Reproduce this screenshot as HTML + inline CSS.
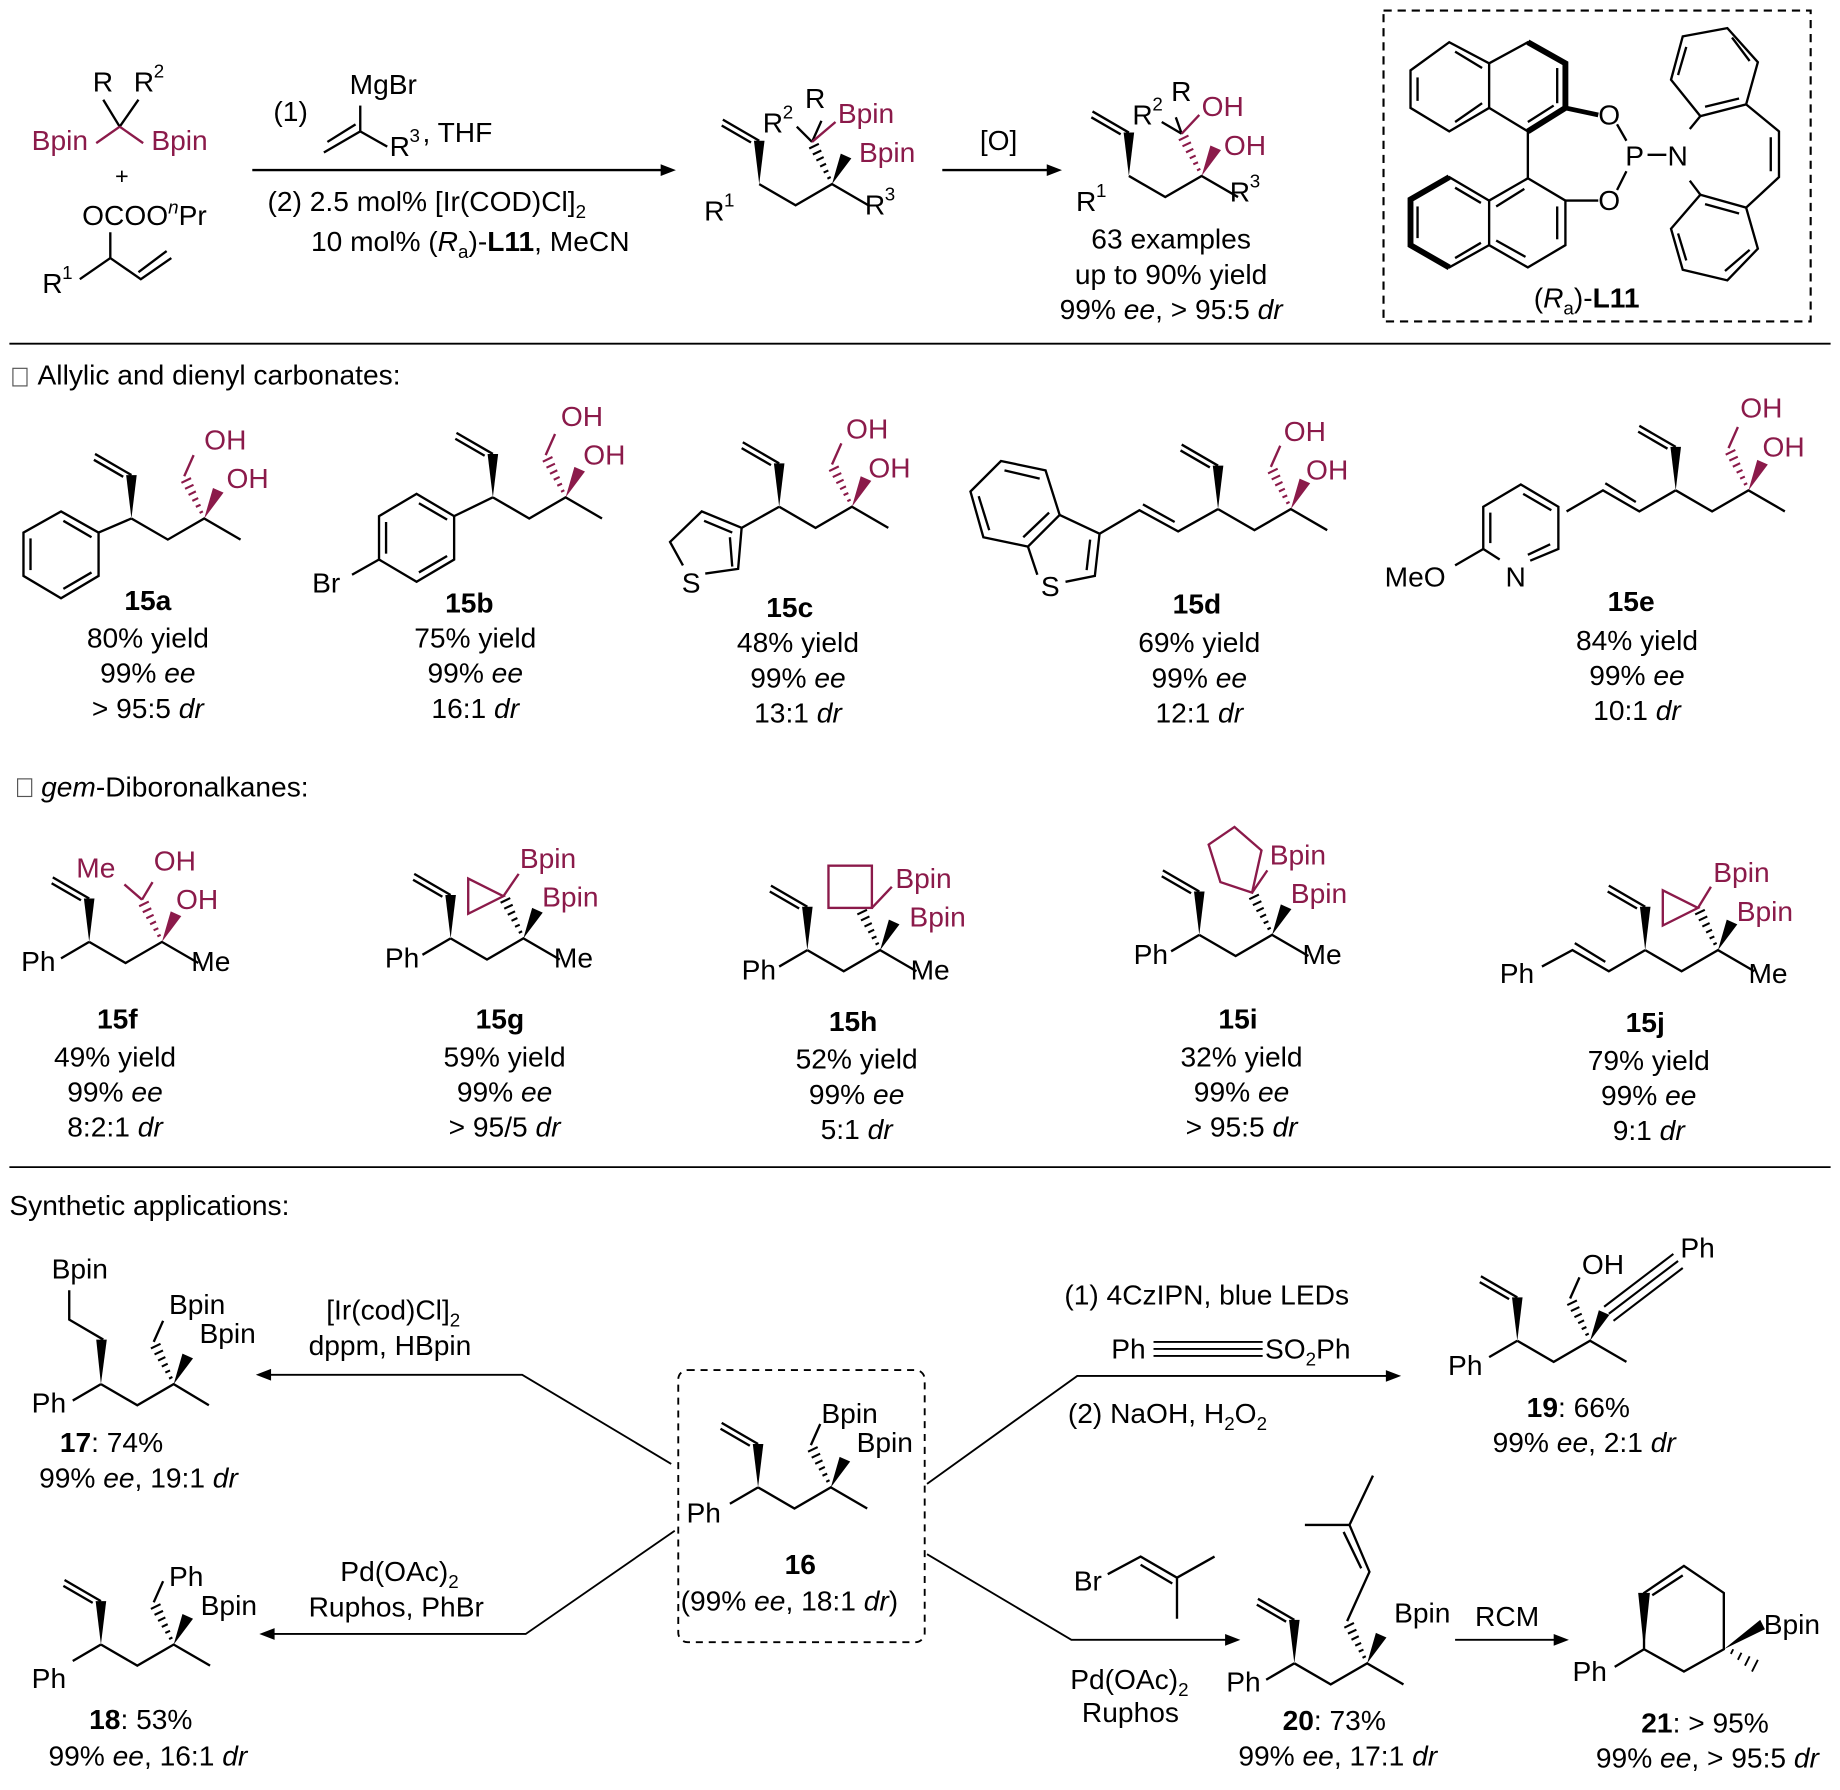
<!DOCTYPE html>
<html><head><meta charset="utf-8"><style>
html,body{margin:0;padding:0;background:#fff}
svg{display:block}
text{font-family:"Liberation Sans",Arial,sans-serif;font-size:24px;fill:#000}
.m{fill:#8b1a4a}
.b{font-weight:bold}
.i{font-style:italic}
.s{font-size:16px}
</style></head><body>
<svg width="1840" height="1790" viewBox="0 0 1568 1526" preserveAspectRatio="none" xmlns="http://www.w3.org/2000/svg">
<defs>
<g id="ch" stroke="#000" stroke-width="2" fill="none">
  <polygon points="0,0 -4.5,-37 4.5,-37" fill="#000" stroke="none"/>
  <line x1="0" y1="-37" x2="-31" y2="-55"/>
  <line x1="-7" y1="-35.5" x2="-32" y2="-50"/>
  <polyline points="0,0 31,18 62,0 93,18"/>
</g>
<g id="hw" stroke="currentColor" stroke-width="1.8" fill="none">
  <line x1="58.1" y1="-4.7" x2="60.9" y2="-6.1"/>
  <line x1="54.9" y1="-9.9" x2="58.9" y2="-11.7"/>
  <line x1="51.9" y1="-15" x2="56.9" y2="-17.4"/>
  <line x1="48.7" y1="-20.1" x2="54.9" y2="-23.1"/>
  <line x1="45.7" y1="-25.3" x2="52.9" y2="-28.7"/>
  <line x1="42.6" y1="-30.4" x2="50.8" y2="-34.4"/>
  <polygon points="62,0 69.5,-26 78.5,-22" fill="currentColor" stroke="none"/>
</g>
<g id="up" stroke="currentColor" stroke-width="2"><line x1="45" y1="-36" x2="53" y2="-54"/></g>
<g id="ph" stroke="#000" stroke-width="2"><line x1="0" y1="0" x2="-24" y2="14"/></g>
</defs>

<!-- ============ TOP SCHEME ============ -->
<g stroke-width="2" fill="none">
  <line x1="88" y1="85" x2="102" y2="108" stroke="#000"/>
  <line x1="118" y1="85" x2="102" y2="108" stroke="#000"/>
  <line x1="102" y1="108" x2="82" y2="122" stroke="#8b1a4a"/>
  <line x1="102" y1="108" x2="122" y2="122" stroke="#8b1a4a"/>
  <g stroke="#000">
  <line x1="94" y1="198" x2="94" y2="220"/>
  <polyline points="94,220 68,238"/>
  <polyline points="94,220 120,238 146,220"/>
  <line x1="118" y1="232" x2="142" y2="214"/>
  <line x1="215" y1="145" x2="568" y2="145"/>
  <line x1="307" y1="90" x2="307" y2="112"/>
  <line x1="307" y1="112" x2="276" y2="130"/>
  <line x1="303" y1="106" x2="279" y2="121"/>
  <line x1="307" y1="112" x2="330" y2="125"/>
  <line x1="803" y1="145" x2="897" y2="145"/>
  </g>
</g>
<polygon points="576,145 563,140 563,150" fill="#000"/>
<polygon points="905,145 892,140 892,150" fill="#000"/>
<text x="79" y="78">R</text><text x="114" y="78">R</text><text class="s" x="131" y="66">2</text>
<text class="m" x="27" y="128">Bpin</text><text class="m" x="129" y="128">Bpin</text>
<text x="98" y="157" style="font-size:20px">+</text>
<text x="70" y="192">OCOO<tspan class="s i" dy="-10">n</tspan><tspan dy="10">Pr</tspan></text>
<text x="36" y="250">R</text><text class="s" x="53" y="238">1</text>
<text x="233" y="103">(1)</text>
<text x="298" y="80">MgBr</text>
<text x="332" y="133">R</text><text class="s" x="349" y="121">3</text><text x="360" y="121">, THF</text>
<text x="228" y="180">(2) 2.5 mol% [Ir(COD)Cl]<tspan class="s" dy="6">2</tspan></text>
<text x="265" y="214">10 mol% (<tspan class="i">R</tspan><tspan class="s" dy="6">a</tspan><tspan dy="-6">)-</tspan><tspan class="b">L11</tspan>, MeCN</text>

<!-- product 1 -->
<use href="#ch" x="647" y="157"/>
<use href="#hw" x="647" y="157" style="color:#000"/>
<line x1="692" y1="121" x2="700" y2="103" stroke="#000" stroke-width="2"/>
<line x1="692" y1="121" x2="679" y2="108" stroke="#000" stroke-width="2"/>
<line x1="692" y1="121" x2="712" y2="104" stroke="#8b1a4a" stroke-width="2"/>
<text x="650" y="113">R</text><text class="s" x="667" y="101">2</text>
<text x="686" y="92">R</text>
<text class="m" x="714" y="105">Bpin</text><text class="m" x="732" y="138">Bpin</text>
<text x="600" y="188">R</text><text class="s" x="617" y="176">1</text>
<text x="737" y="183">R</text><text class="s" x="754" y="171">3</text>
<text x="835" y="128">[O]</text>

<!-- product 2 -->
<use href="#ch" x="962" y="150"/>
<use href="#hw" x="962" y="150" style="color:#8b1a4a"/>
<line x1="1007" y1="114" x2="1002" y2="100" stroke="#000" stroke-width="2"/>
<line x1="1007" y1="114" x2="990" y2="104" stroke="#000" stroke-width="2"/>
<line x1="1007" y1="114" x2="1022" y2="98" stroke="#8b1a4a" stroke-width="2"/>
<text x="965" y="106">R</text><text class="s" x="982" y="94">2</text>
<text x="998" y="86">R</text>
<text class="m" x="1024" y="99">OH</text><text class="m" x="1043" y="132">OH</text>
<text x="917" y="180">R</text><text class="s" x="934" y="168">1</text>
<text x="1048" y="172">R</text><text class="s" x="1065" y="160">3</text>
<text x="998" y="212" text-anchor="middle">63 examples</text>
<text x="998" y="242" text-anchor="middle">up to 90% yield</text>
<text x="998" y="272" text-anchor="middle">99% <tspan class="i">ee</tspan>, &gt; 95:5 <tspan class="i">dr</tspan></text>

<!-- L11 -->
<rect x="1179" y="9" width="364" height="265" fill="none" stroke="#000" stroke-width="1.8" stroke-dasharray="7,5"/>
<g stroke="#000" stroke-width="2" fill="none">
  <polygon points="1202,60 1235,36 1269,54 1269,92 1235,112 1202,92"/>
  <polyline points="1269,54 1302,36 1334,54 1334,92 1302,112 1269,92"/>
  <line x1="1208" y1="66" x2="1208" y2="86"/><line x1="1240" y1="44" x2="1263" y2="58"/><line x1="1240" y1="104" x2="1263" y2="88"/>
  <line x1="1327" y1="58" x2="1327" y2="88" /><line x1="1302" y1="104" x2="1324" y2="90"/>
  <line x1="1302" y1="112" x2="1302" y2="152"/>
  <polygon points="1302,152 1334,171 1334,209 1302,228 1269,209 1269,171"/>
  <polyline points="1269,171 1235,151 1202,170 1202,209 1235,228 1269,209"/>
  <line x1="1327" y1="176" x2="1327" y2="204"/><line x1="1275" y1="176" x2="1299" y2="161"/><line x1="1275" y1="205" x2="1300" y2="219"/>
  <line x1="1240" y1="160" x2="1262" y2="173"/><line x1="1208" y1="176" x2="1208" y2="203"/><line x1="1240" y1="220" x2="1262" y2="207"/>
  <line x1="1334" y1="92" x2="1362" y2="98" stroke-width="4"/>
  <line x1="1334" y1="171" x2="1362" y2="171"/>
  <line x1="1378" y1="106" x2="1386" y2="120"/><line x1="1378" y1="162" x2="1386" y2="146"/>
  <line x1="1404" y1="132" x2="1420" y2="132"/>
  <polygon points="1434,31 1472,24 1498,53 1488,89 1449,99 1424,68"/>
  <polygon points="1449,166 1488,177 1498,212 1472,239 1434,230 1424,195"/>
  <line x1="1440" y1="110" x2="1449" y2="99"/><line x1="1440" y1="154" x2="1449" y2="166"/>
  <polyline points="1488,89 1516,112 1516,151 1488,177"/>
  <line x1="1509" y1="117" x2="1509" y2="146"/>
  <line x1="1437" y1="40" x2="1430" y2="64"/><line x1="1476" y1="32" x2="1491" y2="52"/><line x1="1453" y1="91" x2="1482" y2="84"/>
  <line x1="1453" y1="174" x2="1482" y2="182"/><line x1="1491" y1="213" x2="1470" y2="231"/><line x1="1437" y1="222" x2="1430" y2="199"/>
</g>
<g stroke="#000" stroke-width="5" fill="none">
  <polyline points="1302,36 1334,54 1334,92"/>
  <line x1="1302" y1="112" x2="1334" y2="92"/>
  <polyline points="1235,151 1202,170 1202,209 1235,228"/>
</g>
<text x="1362" y="106">O</text><text x="1385" y="141">P</text><text x="1421" y="141">N</text><text x="1362" y="179">O</text>
<text x="1307" y="262">(<tspan class="i">R</tspan><tspan class="s" dy="6">a</tspan><tspan dy="-6">)-</tspan><tspan class="b">L11</tspan></text>

<line x1="8" y1="293" x2="1560" y2="293" stroke="#000" stroke-width="1.5"/>

<!-- ============ ALLYLIC ============ -->
<rect x="11" y="314" width="12" height="15" fill="none" stroke="#555" stroke-width="1"/>
<text x="32" y="328">Allylic and dienyl carbonates:</text>

<!-- 15a -->
<use href="#ch" x="112" y="442"/><use href="#hw" x="112" y="442" style="color:#8b1a4a"/><use href="#up" x="112" y="442" style="color:#8b1a4a"/>
<g stroke="#000" stroke-width="2" fill="none">
  <polygon points="52,436 84,454 84,491 52,510 20,491 20,454"/>
  <line x1="84" y1="454" x2="112" y2="442"/>
  <line x1="26" y1="459" x2="26" y2="486"/><line x1="54" y1="444" x2="78" y2="458"/><line x1="54" y1="502" x2="78" y2="488"/>
</g>
<text class="m" x="174" y="383">OH</text><text class="m" x="193" y="416">OH</text>
<text class="b" x="126" y="520" text-anchor="middle">15a</text>
<text x="126" y="552" text-anchor="middle">80% yield</text>
<text x="126" y="582" text-anchor="middle">99% <tspan class="i">ee</tspan></text>
<text x="126" y="612" text-anchor="middle">&gt; 95:5 <tspan class="i">dr</tspan></text>

<!-- 15b -->
<use href="#ch" x="420" y="424"/><use href="#hw" x="420" y="424" style="color:#8b1a4a"/><use href="#up" x="420" y="424" style="color:#8b1a4a"/>
<g stroke="#000" stroke-width="2" fill="none">
  <polygon points="355,421 387,440 387,477 355,496 323,477 323,440"/>
  <line x1="387" y1="440" x2="420" y2="424"/><line x1="323" y1="477" x2="300" y2="490"/>
  <line x1="329" y1="445" x2="329" y2="472"/><line x1="357" y1="429" x2="381" y2="443"/><line x1="357" y1="488" x2="381" y2="474"/>
</g>
<text x="266" y="505">Br</text>
<text class="m" x="478" y="363">OH</text><text class="m" x="497" y="396">OH</text>
<text class="b" x="400" y="522" text-anchor="middle">15b</text>
<text x="405" y="552" text-anchor="middle">75% yield</text>
<text x="405" y="582" text-anchor="middle">99% <tspan class="i">ee</tspan></text>
<text x="405" y="612" text-anchor="middle">16:1 <tspan class="i">dr</tspan></text>

<!-- 15c -->
<use href="#ch" x="664" y="432"/><use href="#hw" x="664" y="432" style="color:#8b1a4a"/><use href="#up" x="664" y="432" style="color:#8b1a4a"/>
<g stroke="#000" stroke-width="2" fill="none">
  <line x1="664" y1="432" x2="632" y2="450"/>
  <polyline points="632,450 629,485 601,489"/><polyline points="582,482 571,462 598,436 632,450"/>
  <line x1="624" y1="454" x2="600" y2="444"/><line x1="624" y1="483" x2="622" y2="458"/>
</g>
<text x="581" y="505">S</text>
<text class="m" x="721" y="374">OH</text><text class="m" x="740" y="407">OH</text>
<text class="b" x="673" y="526" text-anchor="middle">15c</text>
<text x="680" y="556" text-anchor="middle">48% yield</text>
<text x="680" y="586" text-anchor="middle">99% <tspan class="i">ee</tspan></text>
<text x="680" y="616" text-anchor="middle">13:1 <tspan class="i">dr</tspan></text>

<!-- 15d -->
<use href="#ch" x="1038" y="434"/><use href="#hw" x="1038" y="434" style="color:#8b1a4a"/><use href="#up" x="1038" y="434" style="color:#8b1a4a"/>
<g stroke="#000" stroke-width="2" fill="none">
  <polyline points="1038,434 1004,453 971,435 937,455"/><line x1="1001" y1="445" x2="974" y2="430"/>
  <polygon points="853,393 891,401 903,439 876,466 838,458 827,419"/>
  <line x1="856" y1="401" x2="886" y2="408"/><line x1="834" y1="423" x2="843" y2="452"/><line x1="872" y1="458" x2="894" y2="437"/>
  <polyline points="903,439 937,455 933,491 908,496"/><line x1="884" y1="490" x2="876" y2="466"/>
  <line x1="929" y1="460" x2="926" y2="486"/>
</g>
<text x="887" y="508">S</text>
<text class="m" x="1094" y="376">OH</text><text class="m" x="1113" y="409">OH</text>
<text class="b" x="1020" y="523" text-anchor="middle">15d</text>
<text x="1022" y="556" text-anchor="middle">69% yield</text>
<text x="1022" y="586" text-anchor="middle">99% <tspan class="i">ee</tspan></text>
<text x="1022" y="616" text-anchor="middle">12:1 <tspan class="i">dr</tspan></text>

<!-- 15e -->
<use href="#ch" x="1428" y="418"/><use href="#hw" x="1428" y="418" style="color:#8b1a4a"/><use href="#up" x="1428" y="418" style="color:#8b1a4a"/>
<g stroke="#000" stroke-width="2" fill="none">
  <polyline points="1428,418 1397,436 1366,418 1335,436"/><line x1="1394" y1="428" x2="1368" y2="412"/>
  <polyline points="1304,478 1328,468 1328,432 1296,413 1264,432 1264,468 1278,477"/>
  <line x1="1270" y1="437" x2="1270" y2="463"/><line x1="1298" y1="421" x2="1322" y2="435"/><line x1="1321" y1="464" x2="1302" y2="473"/>
  <line x1="1264" y1="468" x2="1240" y2="482"/>
</g>
<text x="1283" y="500">N</text><text x="1180" y="500">MeO</text>
<text class="m" x="1483" y="356">OH</text><text class="m" x="1502" y="389">OH</text>
<text class="b" x="1390" y="521" text-anchor="middle">15e</text>
<text x="1395" y="554" text-anchor="middle">84% yield</text>
<text x="1395" y="584" text-anchor="middle">99% <tspan class="i">ee</tspan></text>
<text x="1395" y="614" text-anchor="middle">10:1 <tspan class="i">dr</tspan></text>

<!-- ============ GEM ============ -->
<rect x="15" y="664" width="12" height="15" fill="none" stroke="#555" stroke-width="1"/>
<text x="35" y="679"><tspan class="i">gem</tspan>-Diboronalkanes:</text>

<!-- 15f -->
<use href="#ch" x="76" y="803"/><use href="#hw" x="76" y="803" style="color:#8b1a4a"/><use href="#ph" x="76" y="803"/>
<g stroke="#8b1a4a" stroke-width="2"><line x1="121" y1="767" x2="130" y2="752"/><line x1="121" y1="767" x2="106" y2="754"/></g>
<text x="18" y="828">Ph</text><text x="163" y="828">Me</text>
<text class="m" x="65" y="748">Me</text><text class="m" x="131" y="742">OH</text><text class="m" x="150" y="775">OH</text>
<text class="b" x="100" y="877" text-anchor="middle">15f</text>
<text x="98" y="909" text-anchor="middle">49% yield</text>
<text x="98" y="939" text-anchor="middle">99% <tspan class="i">ee</tspan></text>
<text x="98" y="969" text-anchor="middle">8:2:1 <tspan class="i">dr</tspan></text>

<!-- 15g -->
<use href="#ch" x="384" y="800"/><use href="#hw" x="384" y="800" style="color:#000"/><use href="#ph" x="384" y="800"/>
<g stroke="#8b1a4a" stroke-width="2" fill="none"><polygon points="429,764 399,749 399,779"/><line x1="429" y1="764" x2="442" y2="745"/></g>
<text x="328" y="825">Ph</text><text x="472" y="825">Me</text>
<text class="m" x="443" y="740">Bpin</text><text class="m" x="462" y="773">Bpin</text>
<text class="b" x="426" y="877" text-anchor="middle">15g</text>
<text x="430" y="909" text-anchor="middle">59% yield</text>
<text x="430" y="939" text-anchor="middle">99% <tspan class="i">ee</tspan></text>
<text x="430" y="969" text-anchor="middle">&gt; 95/5 <tspan class="i">dr</tspan></text>

<!-- 15h -->
<use href="#ch" x="688" y="810"/><use href="#hw" x="688" y="810" style="color:#000"/><use href="#ph" x="688" y="810"/>
<g stroke="#8b1a4a" stroke-width="2" fill="none"><rect x="706" y="738" width="37" height="36"/><line x1="743" y1="774" x2="760" y2="756"/></g>
<text x="632" y="835">Ph</text><text x="776" y="835">Me</text>
<text class="m" x="763" y="757">Bpin</text><text class="m" x="775" y="790">Bpin</text>
<text class="b" x="727" y="879" text-anchor="middle">15h</text>
<text x="730" y="911" text-anchor="middle">52% yield</text>
<text x="730" y="941" text-anchor="middle">99% <tspan class="i">ee</tspan></text>
<text x="730" y="971" text-anchor="middle">5:1 <tspan class="i">dr</tspan></text>

<!-- 15i -->
<use href="#ch" x="1022" y="797"/><use href="#hw" x="1022" y="797" style="color:#000"/><use href="#ph" x="1022" y="797"/>
<g stroke="#8b1a4a" stroke-width="2" fill="none"><polygon points="1067,761 1040,752 1030,720 1052,705 1075,725"/><line x1="1067" y1="761" x2="1080" y2="742"/></g>
<text x="966" y="822">Ph</text><text x="1110" y="822">Me</text>
<text class="m" x="1082" y="737">Bpin</text><text class="m" x="1100" y="770">Bpin</text>
<text class="b" x="1055" y="877" text-anchor="middle">15i</text>
<text x="1058" y="909" text-anchor="middle">32% yield</text>
<text x="1058" y="939" text-anchor="middle">99% <tspan class="i">ee</tspan></text>
<text x="1058" y="969" text-anchor="middle">&gt; 95:5 <tspan class="i">dr</tspan></text>

<!-- 15j -->
<use href="#ch" x="1402" y="810"/><use href="#hw" x="1402" y="810" style="color:#000"/>
<g stroke="#000" stroke-width="2" fill="none"><polyline points="1402,810 1371,828 1340,810 1314,824"/><line x1="1368" y1="820" x2="1342" y2="804"/></g>
<g stroke="#8b1a4a" stroke-width="2" fill="none"><polygon points="1447,774 1417,759 1417,789"/><line x1="1447" y1="774" x2="1458" y2="756"/></g>
<text x="1278" y="838">Ph</text><text x="1490" y="838">Me</text>
<text class="m" x="1460" y="752">Bpin</text><text class="m" x="1480" y="785">Bpin</text>
<text class="b" x="1402" y="880" text-anchor="middle">15j</text>
<text x="1405" y="912" text-anchor="middle">79% yield</text>
<text x="1405" y="942" text-anchor="middle">99% <tspan class="i">ee</tspan></text>
<text x="1405" y="972" text-anchor="middle">9:1 <tspan class="i">dr</tspan></text>

<line x1="8" y1="995" x2="1560" y2="995" stroke="#000" stroke-width="1.5"/>

<!-- ============ APPLICATIONS ============ -->
<text x="8" y="1036">Synthetic applications:</text>

<!-- 17 -->
<g stroke="#000" stroke-width="2" fill="none">
  <polyline points="59,1100 59,1125 88,1142"/>
  <polyline points="86,1180 117,1198 148,1180 178,1198"/>
  <line x1="86" y1="1180" x2="62" y2="1194"/>
  <line x1="131" y1="1144" x2="139" y2="1126"/>
</g>
<polygon points="86,1180 82,1142 91,1142" fill="#000"/>
<use href="#hw" x="86" y="1180" style="color:#000"/>
<text x="44" y="1090">Bpin</text><text x="144" y="1120">Bpin</text><text x="170" y="1145">Bpin</text><text x="27" y="1204">Ph</text>
<text x="95" y="1238" text-anchor="middle"><tspan class="b">17</tspan>: 74%</text>
<text x="118" y="1268" text-anchor="middle">99% <tspan class="i">ee</tspan>, 19:1 <tspan class="i">dr</tspan></text>
<g stroke="#000" stroke-width="1.6" fill="none"><polyline points="572,1248 445,1172 227,1172"/><polyline points="575,1305 448,1393 230,1393"/>
<polyline points="790,1265 918,1173 1185,1173"/><polyline points="790,1325 913,1398 1048,1398"/><line x1="1240" y1="1398" x2="1328" y2="1398"/></g>
<polygon points="218,1172 231,1167 231,1177" fill="#000"/>
<polygon points="221,1393 234,1388 234,1398" fill="#000"/>
<polygon points="1194,1173 1181,1168 1181,1178" fill="#000"/>
<polygon points="1057,1398 1044,1393 1044,1403" fill="#000"/>
<polygon points="1337,1398 1324,1393 1324,1403" fill="#000"/>
<text x="278" y="1125">[Ir(cod)Cl]<tspan class="s" dy="6">2</tspan></text>
<text x="263" y="1155">dppm, HBpin</text>
<text x="290" y="1348">Pd(OAc)<tspan class="s" dy="6">2</tspan></text>
<text x="263" y="1378">Ruphos, PhBr</text>

<!-- 16 -->
<rect x="578" y="1168" width="210" height="232" rx="8" fill="none" stroke="#000" stroke-width="1.6" stroke-dasharray="6,5"/>
<use href="#ch" x="646" y="1268"/><use href="#hw" x="646" y="1268" style="color:#000"/><use href="#ph" x="646" y="1268"/>
<line x1="691" y1="1232" x2="699" y2="1214" stroke="#000" stroke-width="2"/>
<text x="700" y="1213">Bpin</text><text x="730" y="1238">Bpin</text><text x="585" y="1298">Ph</text>
<text class="b" x="682" y="1342" text-anchor="middle">16</text>
<text x="580" y="1373">(99% <tspan class="i">ee</tspan>, 18:1 <tspan class="i">dr</tspan>)</text>

<!-- 18 -->
<use href="#ch" x="86" y="1402"/><use href="#hw" x="86" y="1402" style="color:#000"/><use href="#ph" x="86" y="1402"/>
<line x1="131" y1="1366" x2="139" y2="1348" stroke="#000" stroke-width="2"/>
<text x="144" y="1352">Ph</text><text x="171" y="1377">Bpin</text><text x="27" y="1439">Ph</text>
<text x="120" y="1474" text-anchor="middle"><tspan class="b">18</tspan>: 53%</text>
<text x="126" y="1505" text-anchor="middle">99% <tspan class="i">ee</tspan>, 16:1 <tspan class="i">dr</tspan></text>

<!-- 19 -->
<text x="907" y="1112">(1) 4CzIPN, blue LEDs</text>
<text x="947" y="1158">Ph</text>
<g stroke="#000" stroke-width="1.6"><line x1="983" y1="1144" x2="1076" y2="1144"/><line x1="983" y1="1150" x2="1076" y2="1150"/><line x1="983" y1="1156" x2="1076" y2="1156"/></g>
<text x="1078" y="1158">SO<tspan class="s" dy="6">2</tspan><tspan dy="-6">Ph</tspan></text>
<text x="910" y="1213">(2) NaOH, H<tspan class="s" dy="6">2</tspan><tspan dy="-6">O</tspan><tspan class="s" dy="6">2</tspan></text>
<use href="#ch" x="1293" y="1143"/><use href="#hw" x="1293" y="1143" style="color:#000"/><use href="#ph" x="1293" y="1143"/>
<line x1="1338" y1="1107" x2="1346" y2="1089" stroke="#000" stroke-width="2"/>
<g stroke="#000" stroke-width="1.8"><line x1="1371" y1="1120" x2="1430" y2="1075"/><line x1="1375" y1="1126" x2="1434" y2="1081"/><line x1="1367" y1="1114" x2="1426" y2="1069"/></g>
<text x="1348" y="1086">OH</text><text x="1432" y="1072">Ph</text><text x="1234" y="1172">Ph</text>
<text x="1345" y="1208" text-anchor="middle"><tspan class="b">19</tspan>: 66%</text>
<text x="1350" y="1238" text-anchor="middle">99% <tspan class="i">ee</tspan>, 2:1 <tspan class="i">dr</tspan></text>

<!-- 20 -->
<text x="915" y="1356">Br</text>
<g stroke="#000" stroke-width="2" fill="none"><polyline points="944,1342 972,1327 1003,1345 1003,1380"/><line x1="1003" y1="1345" x2="1035" y2="1327"/><line x1="972" y1="1334" x2="999" y2="1350"/></g>
<text x="912" y="1440">Pd(OAc)<tspan class="s" dy="6">2</tspan></text>
<text x="922" y="1468">Ruphos</text>
<use href="#ch" x="1103" y="1418"/><use href="#hw" x="1103" y="1418" style="color:#000"/><use href="#ph" x="1103" y="1418"/>
<g stroke="#000" stroke-width="2" fill="none">
  <polyline points="1148,1382 1167,1340 1150,1300 1170,1258"/>
  <line x1="1160" y1="1337" x2="1145" y2="1306"/>
  <line x1="1150" y1="1300" x2="1112" y2="1300"/>
</g>
<text x="1188" y="1383">Bpin</text><text x="1045" y="1442">Ph</text>
<text x="1137" y="1475" text-anchor="middle"><tspan class="b">20</tspan>: 73%</text>
<text x="1140" y="1505" text-anchor="middle">99% <tspan class="i">ee</tspan>, 17:1 <tspan class="i">dr</tspan></text>
<text x="1257" y="1386">RCM</text>

<!-- 21 -->
<g stroke="#000" stroke-width="2" fill="none">
  <polygon points="1401,1406 1401,1358 1435,1335 1469,1358 1469,1406 1435,1425"/>
  <line x1="1408" y1="1360" x2="1434" y2="1343"/>
  <line x1="1401" y1="1406" x2="1376" y2="1421"/>
</g>
<polygon points="1401,1406 1396,1358 1406,1358" fill="#000"/>
<polygon points="1469,1406 1500,1381 1504,1389" fill="#000"/>
<g stroke="#000" stroke-width="1.6"><line x1="1475" y1="1410" x2="1477" y2="1406"/><line x1="1481" y1="1415" x2="1484" y2="1409"/><line x1="1487" y1="1420" x2="1491" y2="1412"/><line x1="1493" y1="1425" x2="1498" y2="1415"/></g>
<text x="1340" y="1433">Ph</text><text x="1503" y="1393">Bpin</text>
<text x="1453" y="1477" text-anchor="middle"><tspan class="b">21</tspan>: &gt; 95%</text>
<text x="1455" y="1507" text-anchor="middle">99% <tspan class="i">ee</tspan>, &gt; 95:5 <tspan class="i">dr</tspan></text>
</svg>
</body></html>
